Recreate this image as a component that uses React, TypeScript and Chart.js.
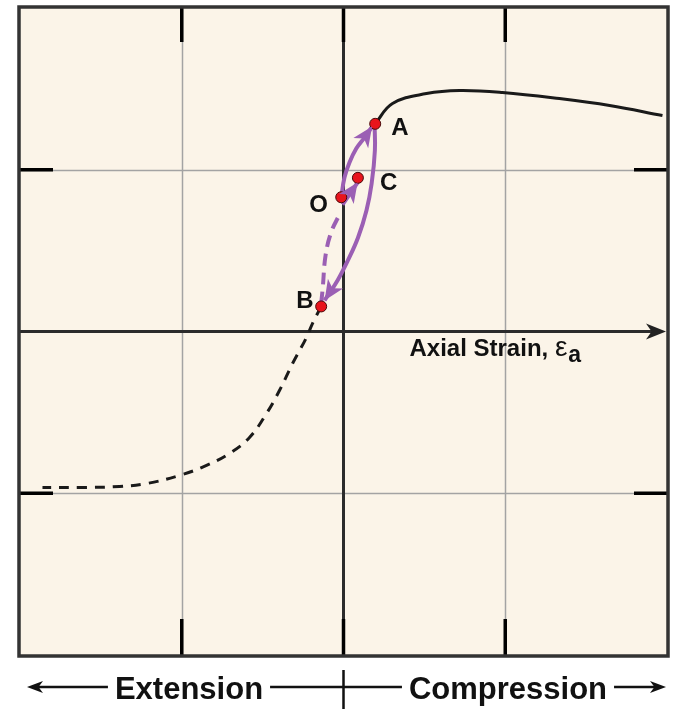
import React, { useEffect, useRef } from "react";
import { Chart, registerables } from "chart.js";

Chart.register(...registerables);

// ---- Data (strain, stress in arbitrary units; plot spans -2..2 on both axes) ----
const envelopeX = [0.196, 0.303, 0.513, 0.717, 0.983, 1.335, 1.645, 1.972];
const envelopeY = [1.284, 1.41, 1.471, 1.49, 1.478, 1.44, 1.397, 1.335];

const extensionX = [-0.138, -0.192, -0.229, -0.315, -0.396, -0.476, -0.581, -0.705, -0.847, -1.014, -1.218, -1.385, -1.589, -1.861];
const extensionY = [0.155, 0.049, -0.037, -0.198, -0.365, -0.507, -0.655, -0.754, -0.828, -0.89, -0.94, -0.958, -0.964, -0.964];

const loadOAX = [-0.014, 0.006, 0.037, 0.079, 0.13, 0.177];
const loadOAY = [0.83, 0.952, 1.045, 1.131, 1.199, 1.267];

const unloadABX = [0.192, 0.194, 0.174, 0.142, 0.09, 0.027, -0.037, -0.117];
const unloadABY = [1.286, 1.119, 0.915, 0.748, 0.581, 0.439, 0.315, 0.192];

const reloadBOX = [-0.138, -0.128, -0.111, -0.076, -0.025];
const reloadBOY = [0.173, 0.274, 0.47, 0.614, 0.723];

const loadOCX = [-0.006, 0.087];
const loadOCY = [0.785, 0.921];

const pointNames = ["A", "C", "O", "B"];
const pointX = [0.196, 0.089, -0.014, -0.138];
const pointY = [1.284, 0.95, 0.83, 0.155];

const axisMin = -2;
const axisMax = 2;
const gridValues = [-1, 1];
const tickValuesX = [-1, 0, 1];
const tickValuesY = [-1, 1];

const xAxisLabel = "Axial Strain, ";
const xAxisSymbol = "ε";
const xAxisSub = "a";
const leftLabel = "Extension";
const rightLabel = "Compression";

// ---- Styles ----
const BG = "#fbf4e8";
const PURPLE = "#9b5fb4";
const FONT = '"Liberation Sans", Arial, Helvetica, sans-serif';
const labelOffsets: Record<string, [number, number]> = {
  A: [16, 11],
  C: [22, 12],
  O: [-32, 15],
  B: [-25, 2],
};

const zip = (xs: number[], ys: number[]) => xs.map((x, i) => ({ x, y: ys[i] }));

function arrowHead(ctx: CanvasRenderingContext2D, tx: number, ty: number, ang: number, len: number, half: number, color: string) {
  ctx.save();
  ctx.translate(tx, ty);
  ctx.rotate(ang);
  ctx.fillStyle = color;
  ctx.beginPath();
  ctx.moveTo(0, 0);
  ctx.lineTo(-len, -half);
  ctx.lineTo(-len * 0.72, 0);
  ctx.lineTo(-len, half);
  ctx.closePath();
  ctx.fill();
  ctx.restore();
}

const framePlugin = {
  id: "frame",
  beforeDraw(chart: any) {
    const { ctx, chartArea: a } = chart;
    ctx.save();
    ctx.fillStyle = BG;
    ctx.fillRect(a.left, a.top, a.right - a.left, a.bottom - a.top);
    ctx.restore();
  },
  beforeDatasetsDraw(chart: any) {
    const { ctx, chartArea: a, scales } = chart;
    const xs = scales.x;
    const ys = scales.y;
    ctx.save();
    // grid
    ctx.strokeStyle = "#a3a3a3";
    ctx.lineWidth = 1.5;
    gridValues.forEach((v) => {
      const px = Math.round(xs.getPixelForValue(v)) + 0.5;
      ctx.beginPath();
      ctx.moveTo(px, a.top);
      ctx.lineTo(px, a.bottom);
      ctx.stroke();
      const py = Math.round(ys.getPixelForValue(v)) + 0.5;
      ctx.beginPath();
      ctx.moveTo(a.left, py);
      ctx.lineTo(a.right, py);
      ctx.stroke();
    });
    // axes
    const x0 = xs.getPixelForValue(0);
    const y0 = ys.getPixelForValue(0);
    ctx.strokeStyle = "#2b2b2b";
    ctx.lineWidth = 3;
    ctx.beginPath();
    ctx.moveTo(x0, a.top);
    ctx.lineTo(x0, a.bottom);
    ctx.stroke();
    ctx.beginPath();
    ctx.moveTo(a.left, y0);
    ctx.lineTo(a.right - 10, y0);
    ctx.stroke();
    arrowHead(ctx, a.right - 1, y0, 0, 20, 8, "#222");
    // border ticks
    ctx.strokeStyle = "#000";
    ctx.lineWidth = 3.5;
    tickValuesX.forEach((v) => {
      const px = xs.getPixelForValue(v);
      ctx.beginPath();
      ctx.moveTo(px, a.top);
      ctx.lineTo(px, a.top + 34);
      ctx.moveTo(px, a.bottom);
      ctx.lineTo(px, a.bottom - 36);
      ctx.stroke();
    });
    tickValuesY.forEach((v) => {
      const py = ys.getPixelForValue(v);
      ctx.beginPath();
      ctx.moveTo(a.left, py);
      ctx.lineTo(a.left + 33, py);
      ctx.moveTo(a.right, py);
      ctx.lineTo(a.right - 33, py);
      ctx.stroke();
    });
    // frame
    ctx.strokeStyle = "#333";
    ctx.lineWidth = 3.5;
    ctx.strokeRect(a.left - 1, a.top - 1, a.right - a.left + 2, a.bottom - a.top + 2);
    // axis label
    ctx.fillStyle = "#111";
    ctx.textBaseline = "alphabetic";
    ctx.textAlign = "left";
    ctx.font = `bold 24px ${FONT}`;
    const lx = x0 + 66;
    const ly = y0 + 24;
    ctx.fillText(xAxisLabel, lx, ly);
    let w = ctx.measureText(xAxisLabel).width;
    ctx.font = `28px ${FONT}`;
    ctx.fillText(xAxisSymbol, lx + w, ly);
    w += ctx.measureText(xAxisSymbol).width;
    ctx.font = `bold 23px ${FONT}`;
    ctx.fillText(xAxisSub, lx + w + 1, ly + 6);
    ctx.restore();
  },
  afterDatasetsDraw(chart: any) {
    const { ctx, scales } = chart;
    ctx.save();
    chart.data.datasets.forEach((ds: any, i: number) => {
      if (!ds.arrow) return;
      const pts = chart.getDatasetMeta(i).data;
      const n = pts.length;
      const p1 = pts[n - 2];
      const p2 = pts[n - 1];
      const ang = Math.atan2(p2.y - p1.y, p2.x - p1.x);
      arrowHead(ctx, p2.x, p2.y, ang, 20, 9, PURPLE);
    });
    // point labels
    ctx.fillStyle = "#111";
    ctx.font = `bold 24px ${FONT}`;
    ctx.textAlign = "left";
    ctx.textBaseline = "alphabetic";
    pointNames.forEach((name, i) => {
      const px = scales.x.getPixelForValue(pointX[i]);
      const py = scales.y.getPixelForValue(pointY[i]);
      const off = labelOffsets[name];
      ctx.fillText(name, px + off[0], py + off[1]);
    });
    ctx.restore();
  },
  afterDraw(chart: any) {
    const { ctx, scales, width, height } = chart;
    const x0 = scales.x.getPixelForValue(0);
    const ly = 687;
    ctx.save();
    ctx.fillStyle = "#111";
    ctx.strokeStyle = "#111";
    ctx.font = `bold 31px ${FONT}`;
    ctx.textBaseline = "alphabetic";
    ctx.textAlign = "center";
    const leftC = 189;
    const rightC = 508;
    ctx.fillText(leftLabel, leftC, 699);
    ctx.fillText(rightLabel, rightC, 699);
    const lw = ctx.measureText(leftLabel).width;
    const rw = ctx.measureText(rightLabel).width;
    ctx.lineWidth = 2.5;
    ctx.beginPath();
    ctx.moveTo(38, ly);
    ctx.lineTo(leftC - lw / 2 - 7, ly);
    ctx.moveTo(leftC + lw / 2 + 7, ly);
    ctx.lineTo(rightC - rw / 2 - 7, ly);
    ctx.moveTo(rightC + rw / 2 + 7, ly);
    ctx.lineTo(width - 24, ly);
    ctx.moveTo(x0, 670);
    ctx.lineTo(x0, height);
    ctx.stroke();
    arrowHead(ctx, 27, ly, Math.PI, 16, 6, "#111");
    arrowHead(ctx, width - 13, ly, 0, 16, 6, "#111");
    ctx.restore();
  },
};

export default function App() {
  const ref = useRef<HTMLCanvasElement | null>(null);
  useEffect(() => {
    if (!ref.current) return;
    const lineBase = { showLine: true, pointRadius: 0, pointHoverRadius: 0, fill: false, tension: 0.4 };
    const chart = new Chart(ref.current, {
      type: "scatter",
      data: {
        datasets: [
          {
            label: "points",
            data: zip(pointX, pointY),
            pointRadius: 5.5,
            pointBackgroundColor: "#e8141c",
            pointBorderColor: "#4a0a0a",
            pointBorderWidth: 1,
            showLine: false,
            order: 0,
          } as any,
          { ...lineBase, label: "OA", data: zip(loadOAX, loadOAY), borderColor: PURPLE, borderWidth: 4, arrow: true, order: 1 } as any,
          { ...lineBase, label: "AB", data: zip(unloadABX, unloadABY), borderColor: PURPLE, borderWidth: 4, arrow: true, order: 1 } as any,
          { ...lineBase, label: "BO", data: zip(reloadBOX, reloadBOY), borderColor: PURPLE, borderWidth: 4, borderDash: [12, 7], order: 1 } as any,
          { ...lineBase, label: "OC", data: zip(loadOCX, loadOCY), borderColor: PURPLE, borderWidth: 4, arrow: true, tension: 0, order: 1 } as any,
          { ...lineBase, label: "envelope", data: zip(envelopeX, envelopeY), borderColor: "#1a1a1a", borderWidth: 3, order: 2 } as any,
          { ...lineBase, label: "extension", data: zip(extensionX, extensionY), borderColor: "#1a1a1a", borderWidth: 3, borderDash: [10, 8], order: 2 } as any,
        ],
      },
      options: {
        responsive: false,
        animation: false,
        events: [],
        layout: { padding: { left: 20, top: 8, right: 12, bottom: 54 } },
        scales: {
          x: { type: "linear", min: axisMin, max: axisMax, display: false },
          y: { type: "linear", min: axisMin, max: axisMax, display: false },
        },
        plugins: { legend: { display: false }, tooltip: { enabled: false } },
      },
      plugins: [framePlugin],
    });
    return () => chart.destroy();
  }, []);
  return (
    <div style={{ position: "absolute", left: 0, top: 0, width: 679, height: 709, background: "#fff" }}>
      <canvas ref={ref} width={679} height={709} style={{ display: "block" }} />
    </div>
  );
}
